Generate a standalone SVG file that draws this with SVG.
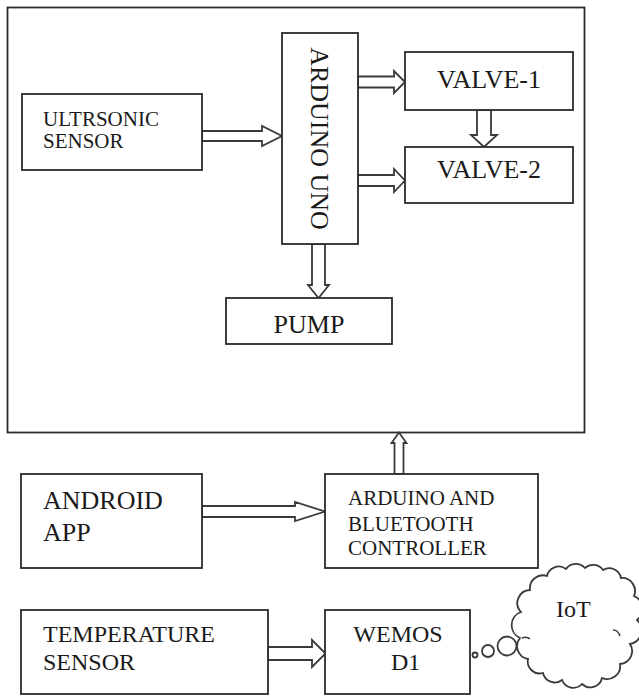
<svg xmlns="http://www.w3.org/2000/svg" width="639" height="696" viewBox="0 0 639 696">
<style>
.box{fill:#fff;stroke:#2b2b2b;stroke-width:1.8}
.arr{fill:#fff;stroke:#3a3a3a;stroke-width:1.8;stroke-linejoin:miter}
text{font-family:'Liberation Serif','DejaVu Serif',serif;fill:#1a1a1a}
.c{text-anchor:middle}
</style>
<rect width="639" height="696" fill="#fff"/>
<g id="outer"><rect class="box" x="7.5" y="7.5" width="577" height="425"/></g>
<g id="connectors">
<polygon class="arr" points="202,131 262,131 262,126 282,136 262,146 262,141 202,141"/>
<polygon class="arr" points="358,76.5 394,76.5 394,71 405,82 394,93 394,87.5 358,87.5"/>
<polygon class="arr" points="358,175 394,175 394,169 405,180.5 394,192 394,186 358,186"/>
<polygon class="arr" points="477,110 491,110 491,135 497,135 484,147 471,135 477,135"/>
<polygon class="arr" points="312,244 325,244 325,285 329,285 318.5,298 308,285 312,285"/>
<polygon class="arr" points="202,506 295,506 295,502 325,511.5 295,521 295,517 202,517"/>
<polygon class="arr" points="394.5,474 394.5,443 391.5,443 399,432.5 406.5,443 403.5,443 403.5,474"/>
<polygon class="arr" points="268,647 312,647 312,640 325.5,653.5 312,667 312,660 268,660"/>
<circle class="arr" cx="475" cy="655" r="2.5" stroke-width="1.4"/>
<circle class="arr" cx="488" cy="651" r="6" stroke-width="1.5"/>
<circle class="arr" cx="507" cy="646" r="9.5" stroke-width="1.6"/>
</g>
<g id="ultrasonic"><rect class="box" x="22" y="94" width="180" height="76"/>
<text x="43" y="126" font-size="21" font-family="Liberation Serif, serif">ULTRSONIC</text><text x="43" y="148" font-size="21" font-family="Liberation Serif, serif">SENSOR</text></g>
<g id="arduino"><rect class="box" x="282" y="33" width="76" height="211"/>
<text class="c" font-size="26" transform="translate(311,138.5) rotate(90)">ARDUINO UNO</text></g>
<g id="valve1"><rect class="box" x="405" y="52" width="168" height="58"/>
<text class="c" x="489" y="88" font-size="26">VALVE-1</text></g>
<g id="valve2"><rect class="box" x="405" y="147" width="168" height="56"/>
<text class="c" x="489" y="178" font-size="26">VALVE-2</text></g>
<g id="pump"><rect class="box" x="226" y="298" width="166" height="46"/>
<text class="c" x="309" y="333" font-size="26">PUMP</text></g>
<g id="android"><rect class="box" x="21" y="474" width="181" height="94"/>
<text x="43" y="509" font-size="26">ANDROID</text><text x="43" y="541" font-size="26">APP</text></g>
<g id="controller"><rect class="box" x="325" y="474" width="213" height="94"/>
<text x="348" y="505" font-size="21">ARDUINO AND</text><text x="348" y="531" font-size="21">BLUETOOTH</text><text x="348" y="555" font-size="21">CONTROLLER</text></g>
<g id="temperature"><rect class="box" x="21" y="610" width="247" height="84"/>
<text x="43" y="642" font-size="24">TEMPERATURE</text><text x="43" y="670" font-size="24">SENSOR</text></g>
<g id="wemos"><rect class="box" x="325" y="610" width="145" height="84"/>
<text class="c" x="398" y="642" font-size="24">WEMOS</text><text x="391" y="670" font-size="24">D1</text></g>
<g id="iot">
<path class="arr" d="M521,612 A13 13 0 0 1 530,590 A13 13 0 0 1 547,576 A12 12 0 0 1 566,569 A12 12 0 0 1 585,568 A12 12 0 0 1 603,570 A12 12 0 0 1 621,578 A13 13 0 0 1 634,596 A14 14 0 0 1 637,620 A14 14 0 0 1 630,644 A13 13 0 0 1 620,664 A13 13 0 0 1 602,678 A12 12 0 0 1 582,684 A12 12 0 0 1 562,680 A12 12 0 0 1 543,673 A12 12 0 0 1 528,659 A13 13 0 0 1 520,638 A14 14 0 0 1 521,612 Z"/>
<path d="M613,630 q5,0 7,6" fill="none" stroke="#3a3a3a" stroke-width="1.5"/>
<path d="M522,638 q5,-2 8,1" fill="none" stroke="#3a3a3a" stroke-width="1.5"/>
<text x="556" y="617" font-size="24">IoT</text></g>
</svg>
